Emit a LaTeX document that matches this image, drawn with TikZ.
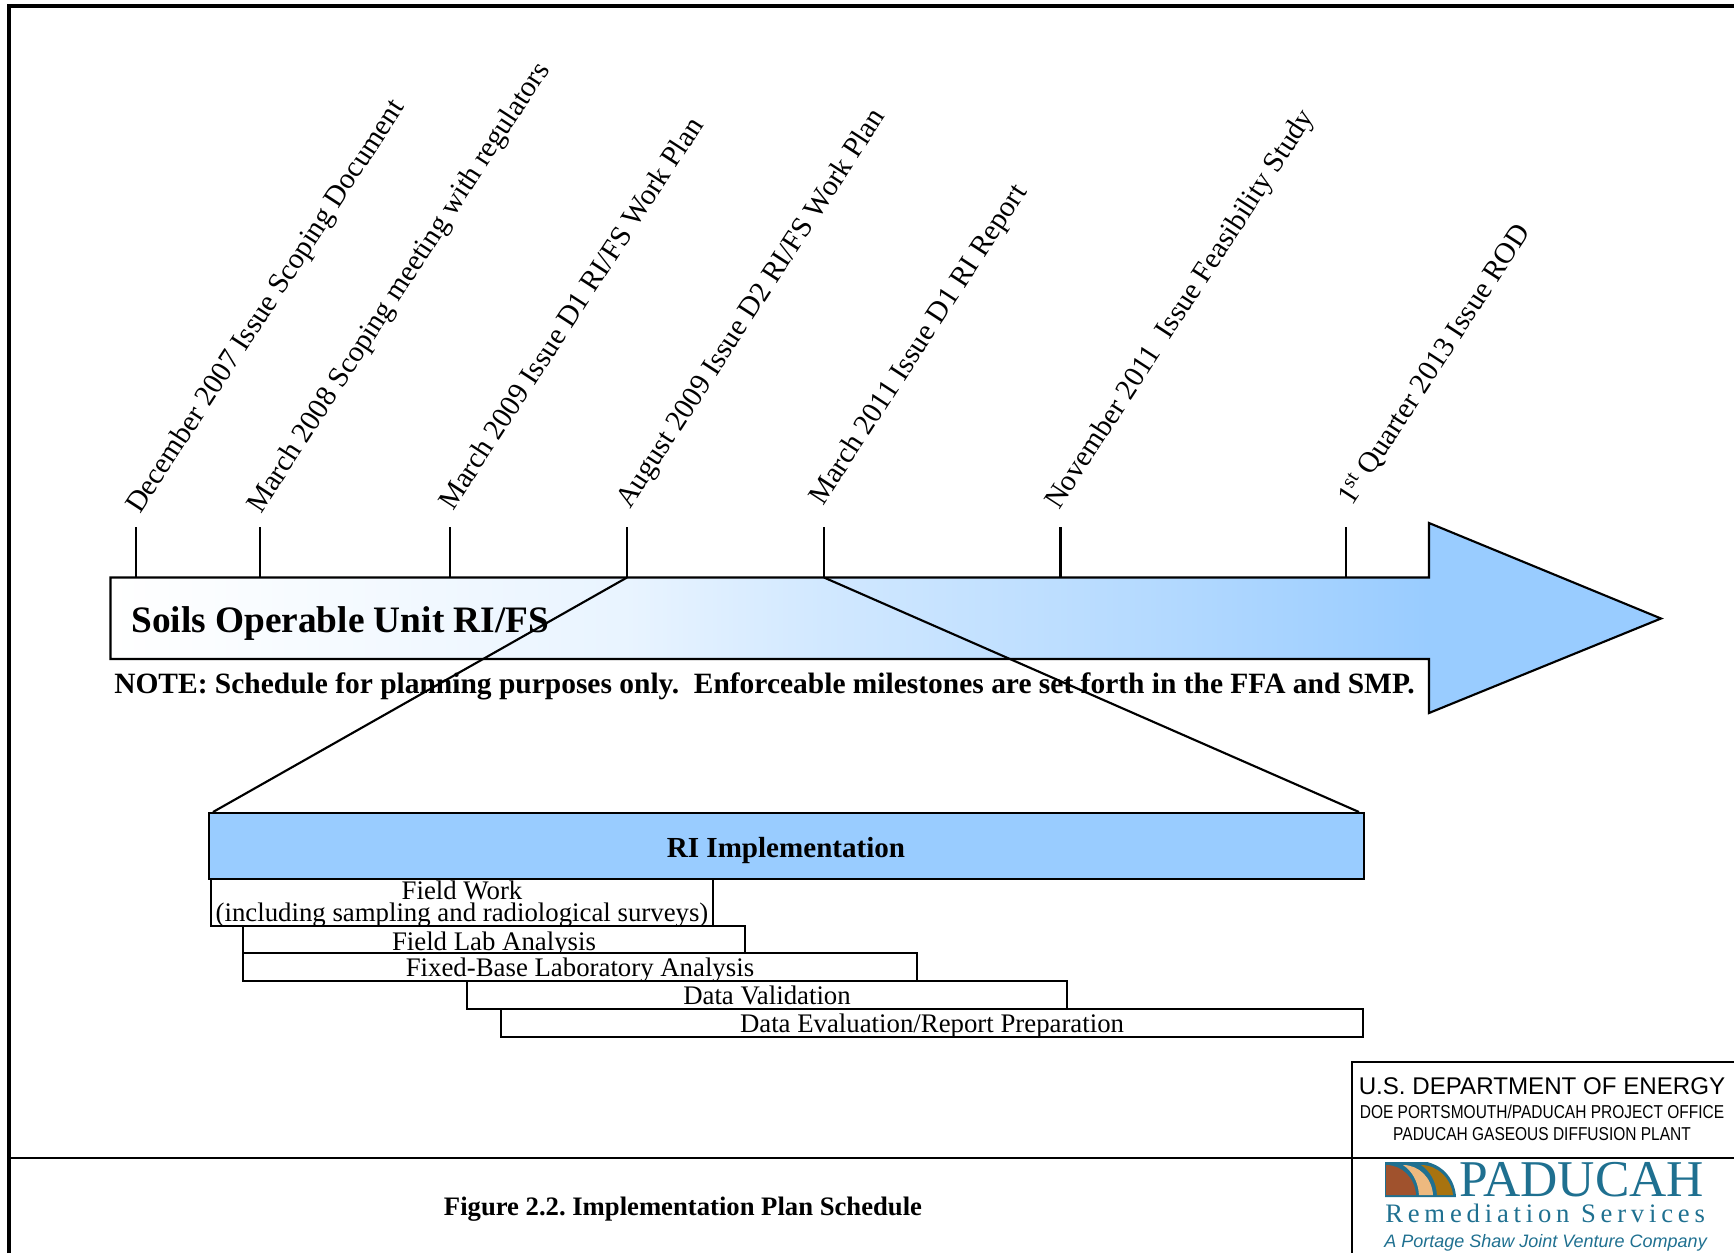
\documentclass[tikz,border=0pt]{standalone}
\usepackage{fontspec}
\setmainfont{Liberation Serif}
\setsansfont{Liberation Sans}
\newfontfamily\spacedserif[LetterSpace=18]{Liberation Serif}
\newfontfamily\narrowsans[FakeStretch=0.83]{Liberation Sans}
\usetikzlibrary{fit,calc}
\definecolor{riblue}{HTML}{99CCFF}
\colorlet{gradA}{riblue!22!white}
\colorlet{gradB}{riblue!45!white}
\colorlet{gradC}{riblue!72!white}
\definecolor{logoteal}{HTML}{1F7090}
\definecolor{logobrown}{HTML}{A0522D}
\definecolor{logotan}{HTML}{EDB97F}
\definecolor{logogold}{HTML}{A8730F}
\pgfdeclarehorizontalshading{arrowshade}{100bp}{color(0bp)=(white); color(25bp)=(white); color(41.7bp)=(gradA); color(48bp)=(gradB); color(58.2bp)=(gradC); color(67.5bp)=(riblue); color(100bp)=(riblue)}
\tikzset{
  x=0.75pt,y=-0.75pt,
  thin line/.style={line width=1.6pt,black},
  frame line/.style={line width=1.9pt,black},
  tick line/.style={line width=1.6pt,black},
  bar box/.style={draw=black,line width=1.5pt,fill=white,inner sep=0pt},
  bar text/.style={inner sep=0pt,font=\fontsize{20.1}{20.1}\selectfont,anchor=base},
  milestone/.style={inner sep=0pt,anchor=base west,rotate=57,font=\fontsize{21.95}{21.95}\selectfont},
}
\newcommand{\pxbox}[6][]{\node[bar box,#1,fit={(#3,#4)(#5,#6)}] (#2) {};}
\begin{document}
\frenchspacing
\begin{tikzpicture}
\useasboundingbox (0,0) rectangle (1734,1253);
% outer frame
\draw[frame line,line width=3pt] (8.7,1253) -- (8.7,6.3) -- (1734,6.3);
\draw[thin line] (8.7,1158) -- (1352,1158);
\draw[frame line] (1734,1062) -- (1352,1062) -- (1352,1253);
\draw[frame line] (1352,1158) -- (1734,1158);
% big arrow
\path[shading=arrowshade]
  (110.5,577.5) -- (1429,577.5) -- (1429,523) -- (1661,618.5) -- (1429,713) -- (1429,659) -- (110.5,659) -- cycle;
\draw[thin line,line join=miter]
  (110.5,577.5) -- (1429,577.5) -- (1429,523) -- (1661,618.5) -- (1429,713) -- (1429,659) -- (110.5,659) -- cycle;
% ticks
\foreach \n/\x in {a/136,b/260,c/450,d/627,e/824,f/1060.5,g/1346}{
  \coordinate (top\n) at (\x,527);
  \coordinate (base\n) at (\x,577.5);
  \draw[tick line] (top\n) -- (base\n);
}
% milestones
\node[milestone] (ma) at (140,515) {December 2007 Issue Scoping Document};
\node[milestone] (mb) at (261,515) {March 2008 Scoping meeting with regulators};
\node[milestone] (mc) at (453,512) {March 2009 Issue D1 RI/FS Work Plan};
\node[milestone] (md) at (630,510) {August 2009 Issue D2 RI/FS Work Plan};
\node[milestone] (me) at (823,507) {March 2011 Issue D1 RI Report};
\node[milestone] (mf) at (1059,511) {November 2011\ \ Issue Feasibility Study};
\node[milestone] (mg) at (1352,507) {1\textsuperscript{st} Quarter 2013 Issue ROD};
% arrow labels
\node[inner sep=0pt,anchor=base west,font=\bfseries\fontsize{28}{28}\selectfont] (title) at (131,632) {Soils Operable Unit RI/FS};
\node[inner sep=0pt,anchor=base west,font=\bfseries\fontsize{22.1}{22.1}\selectfont] (note) at (114,693) {NOTE: Schedule for planning purposes only.\ \ Enforceable milestones are set forth in the FFA and SMP.};
% RI bar
\pxbox[fill=riblue]{ri}{209}{813}{1363.5}{879}
\node[inner sep=0pt,anchor=base,font=\bfseries\fontsize{21.8}{21.8}\selectfont] (ritext) at (786,857) {RI Implementation};
% zoom lines
\draw[thin line] (based) -- ($(ri.north west)+(5,0)$);
\draw[thin line] (basee) -- ($(ri.north east)+(-5.5,0)$);
% task bars
\pxbox{fw}{211}{879}{713}{926}
\node[bar text] (fwt1) at (462,899) {Field Work};
\node[bar text] (fwt2) at (462,921.5) {(including sampling and radiological surveys)};
\pxbox{fl}{243}{926}{745}{953}
\node[bar text] (flt) at (494,950) {Field Lab Analysis};
\pxbox{fb}{243}{953}{917}{981}
\node[bar text] (fbt) at (580,976) {Fixed-Base Laboratory Analysis};
\pxbox{dv}{467}{981}{1067}{1009}
\node[bar text] (dvt) at (767,1004) {Data Validation};
\pxbox{de}{501}{1009}{1363}{1037}
\node[bar text] (det) at (932,1032.5) {Data Evaluation/Report Preparation};
% caption
\node[inner sep=0pt,anchor=base,font=\bfseries\fontsize{20}{20}\selectfont] (caption) at (683,1215) {Figure 2.2. Implementation Plan Schedule};
% DOE block
\node[inner sep=0pt,anchor=base,font=\sffamily\fontsize{18.1}{18.1}\selectfont] (doe1) at (1542,1094.5) {U.S. DEPARTMENT OF ENERGY};
\node[inner sep=0pt,anchor=base,font=\narrowsans\fontsize{14}{14}\selectfont] (doe2) at (1542,1118) {DOE PORTSMOUTH/PADUCAH PROJECT OFFICE};
\node[inner sep=0pt,anchor=base,font=\narrowsans\fontsize{14}{14}\selectfont] (doe3) at (1542,1140) {PADUCAH GASEOUS DIFFUSION PLANT};
% logo
\fill[logoteal] (1385,1162) -- (1427,1162) .. controls (1444,1166) and (1455,1180) .. (1456,1197) -- (1385,1197) -- cycle;
\fill[logobrown] (1386,1165) .. controls (1402,1165) and (1415,1178) .. (1416,1195) -- (1386,1195) -- cycle;
\fill[logotan] (1403,1165) .. controls (1419,1165) and (1432,1178) .. (1433,1195) -- (1419,1195) .. controls (1418,1181) and (1412,1171) .. (1403,1165) -- cycle;
\fill[logogold] (1421,1165) .. controls (1437,1165) and (1451,1178) .. (1453,1195) -- (1437,1195) .. controls (1436,1181) and (1430,1171) .. (1421,1165) -- cycle;
\node[inner sep=0pt,anchor=base west,text=logoteal,font=\fontsize{38.7}{38.7}\selectfont] (lg1) at (1459,1196) {PADUCAH};
\node[inner sep=0pt,anchor=base west,text=logoteal,font=\spacedserif\fontsize{20}{20}\selectfont] (lg2) at (1385,1222) {Remediation Services};
\node[inner sep=0pt,anchor=base west,text=logoteal,font=\sffamily\itshape\fontsize{13.5}{13.5}\selectfont] (lg3) at (1384,1247) {A Portage Shaw Joint Venture Company};
\end{tikzpicture}
\end{document}
